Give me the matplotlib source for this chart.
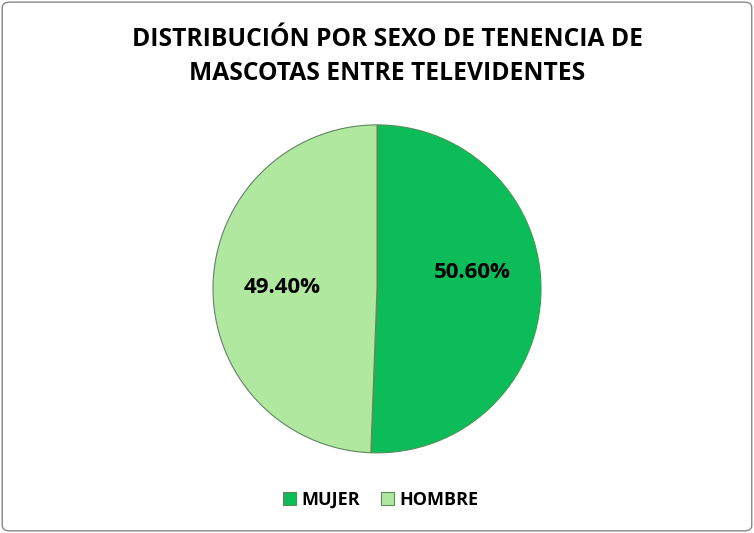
import matplotlib.pyplot as plt
from matplotlib.patches import FancyBboxPatch

# Data
categories = ["MUJER", "HOMBRE"]
values = [50.60, 49.40]
colors = ["#0CBC58", "#B0E8A0"]
title = "DISTRIBUCIÓN POR SEXO DE TENENCIA DE\nMASCOTAS ENTRE TELEVIDENTES"

plt.rcParams['font.family'] = ['Open Sans', 'DejaVu Sans']

fig = plt.figure(figsize=(7.54, 5.33), dpi=100)

# chart border
border = FancyBboxPatch((0.003, 0.004), 0.994, 0.992, boxstyle="round,pad=0,rounding_size=0.01",
                        transform=fig.transFigure, fill=False, edgecolor="#888888", linewidth=1.0)
fig.patches.append(border)

fig.text(0.514, 0.894, title, ha="center", va="center", fontsize=17.7, fontweight="bold",
         linespacing=1.45, color="black")

ax = fig.add_axes([0.5 - 0.2175, 0.458 - 0.3077, 0.435, 0.6154])
wedges, texts, autotexts = ax.pie(values, colors=colors, startangle=90, counterclock=False,
                                  autopct=lambda p: f"{p:.2f}%", pctdistance=0.58,
                                  wedgeprops=dict(edgecolor="#5a8a5a", linewidth=0.8),
                                  textprops=dict(fontsize=16, fontweight="bold", color="black"))
# label for the first slice sits a little higher in the original
x0, y0 = autotexts[0].get_position()
autotexts[0].set_position((x0, y0 + 0.11))
ax.set_aspect("equal")
ax.set_xlim(-1, 1)
ax.set_ylim(-1, 1)

fig.legend(wedges, categories, loc="center", bbox_to_anchor=(0.505, 0.062), ncol=2,
           frameon=False, handlelength=0.7, handleheight=0.7, columnspacing=1.2,
           handletextpad=0.3, prop=dict(size=13, weight="bold"))

fig.savefig("out.png", dpi=100)
